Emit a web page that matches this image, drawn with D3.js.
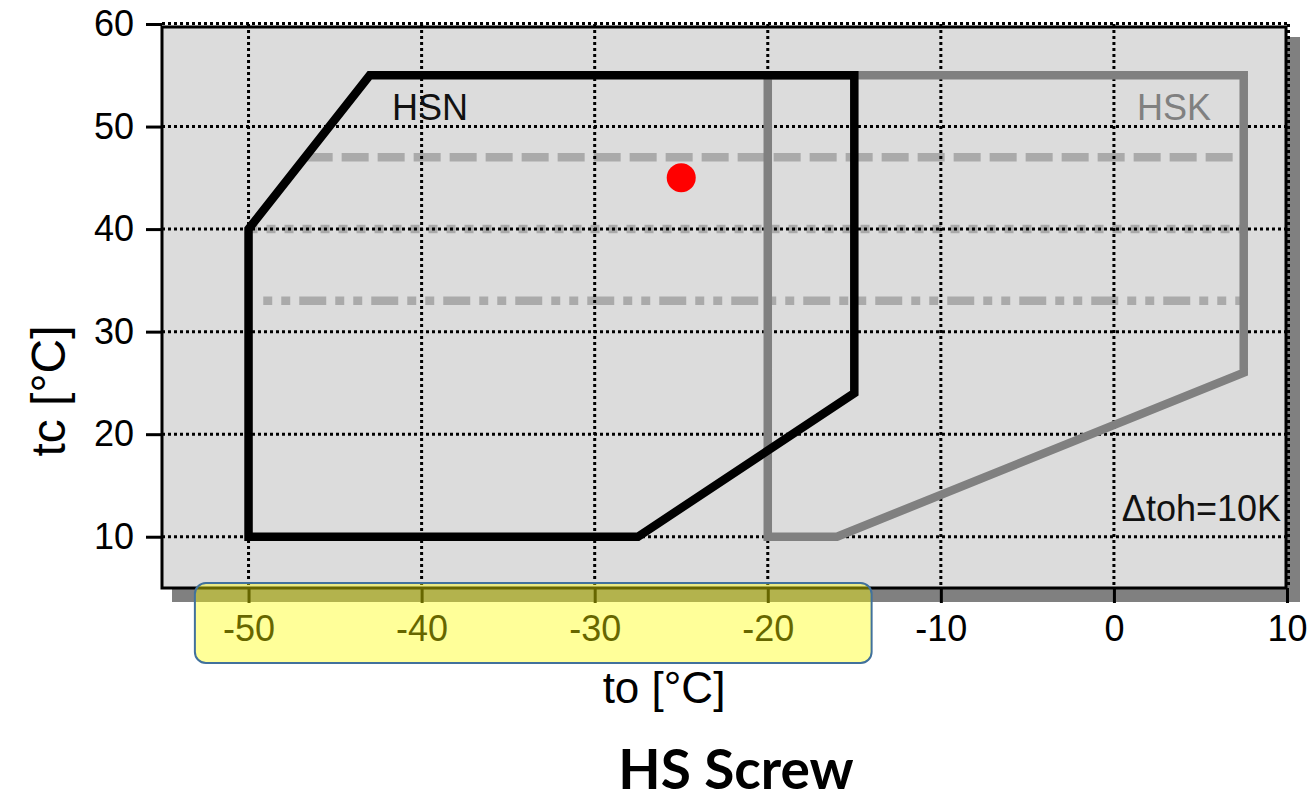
<!DOCTYPE html>
<html>
<head>
<meta charset="utf-8">
<script src="https://cdn.jsdelivr.net/npm/d3@7"></script>
<style>
  html, body { margin: 0; padding: 0; background: #ffffff; }
  svg { display: block; }
</style>
</head>
<body>
<svg id="chart" width="1315" height="800"></svg>
<script>
// ---- data ----
const xTicks = [-50, -40, -30, -20, -10, 0, 10];
const yTicks = [10, 20, 30, 40, 50, 60];

// HSN envelope (to, tc)
const hsnTo = [-50, -50, -43, -15, -15, -27.5];
const hsnTc = [10, 40, 55, 55, 24, 10];
// HSK envelope (to, tc)
const hskTo = [-20, -20, 7.5, 7.5, -16];
const hskTc = [10, 55, 55, 26, 10];

// reference lines
const refTc = [47, 40, 33];
const refToStart = [-46.7, -50, -49.15];
const refToEnd = [7.5, 7.5, 7.5];

// operating point
const pointTo = [-25];
const pointTc = [45];

const labels = ["HSN", "HSK", "Δtoh=10K"];

// ---- layout ----
const svg = d3.select("#chart");
const L = 162, R = 1287, T = 24, B = 588;
const x = d3.scaleLinear().domain([-55, 10]).range([L, R]);
const y = d3.scaleLinear().domain([5, 60]).range([B, T]);
const font = "'Liberation Sans', Arial, sans-serif";
const fmt = d => String(d);

// shadow
svg.append("rect")
  .attr("x", L + 10).attr("y", T + 13)
  .attr("width", R - L + 3).attr("height", B - T + 1)
  .attr("fill", "#808080");
// plot background
svg.append("rect")
  .attr("x", L).attr("y", T + 1.5)
  .attr("width", R - L).attr("height", B - T - 1.5)
  .attr("fill", "#dcdcdc");

// reference lines
const refDash = ["27 9", "9 9", "9 9 9 9 27 9"];
svg.append("g").selectAll("line")
  .data(refTc)
  .join("line")
  .attr("x1", (d, i) => x(refToStart[i]))
  .attr("x2", (d, i) => x(refToEnd[i]))
  .attr("y1", d => y(d)).attr("y2", d => y(d))
  .attr("stroke", "#aaaaaa")
  .attr("stroke-width", 8.5)
  .attr("stroke-dasharray", (d, i) => refDash[i]);

// grid
const grid = svg.append("g");
grid.selectAll("line.gx").data(xTicks).join("line")
  .attr("class", "gx")
  .attr("x1", d => x(d) + (d === 10 ? 1.5 : 0)).attr("x2", d => x(d) + (d === 10 ? 1.5 : 0))
  .attr("y1", T).attr("y2", B)
  .attr("stroke", "#000").attr("stroke-width", 3).attr("stroke-dasharray", "3 3");
grid.selectAll("line.gy").data(yTicks).join("line")
  .attr("class", "gy")
  .attr("y1", d => y(d) - (d === 60 ? 0.5 : 0)).attr("y2", d => y(d) - (d === 60 ? 0.5 : 0))
  .attr("x1", L).attr("x2", R + 2)
  .attr("stroke", "#000").attr("stroke-width", 3).attr("stroke-dasharray", "3 3");

// frame
svg.append("path")
  .attr("d", `M${L},${T + 3}H${R - 1}V${B}H${L}Z`)
  .attr("fill", "none").attr("stroke", "#000").attr("stroke-width", 3);

// axes (ticks + labels)
const yAxis = d3.axisLeft(y).tickValues(yTicks).tickFormat(fmt).tickSize(16).tickPadding(12);
const gy = svg.append("g").attr("transform", `translate(${L},0)`).call(yAxis);
gy.select(".domain").remove();
gy.selectAll(".tick line").attr("stroke", "#000").attr("stroke-width", 3);
gy.selectAll(".tick text").attr("font-family", font).attr("font-size", 36).attr("fill", "#000");

const xAxis = d3.axisBottom(x).tickValues(xTicks).tickFormat(fmt).tickSize(15).tickPadding(12);
const gx = svg.append("g").attr("transform", `translate(0,${B})`).call(xAxis);
gx.select(".domain").remove();
gx.selectAll(".tick line").attr("stroke", "#000").attr("stroke-width", 3);
gx.selectAll(".tick text").attr("font-family", font).attr("font-size", 36).attr("fill", "#000");

// envelopes
const line = d3.line();
svg.append("path")
  .attr("d", line(hskTo.map((d, i) => [x(d), y(hskTc[i])])) + "Z")
  .attr("fill", "none").attr("stroke", "#808080").attr("stroke-width", 8.5)
  .attr("stroke-linejoin", "miter");
svg.append("path")
  .attr("d", line(hsnTo.map((d, i) => [x(d), y(hsnTc[i])])) + "Z")
  .attr("fill", "none").attr("stroke", "#000").attr("stroke-width", 8.5)
  .attr("stroke-linejoin", "miter");

// point
svg.selectAll("circle.pt").data(pointTo).join("circle")
  .attr("class", "pt")
  .attr("cx", d => x(d)).attr("cy", (d, i) => y(pointTc[i]))
  .attr("r", 14.5).attr("fill", "#ff0000");

// in-plot labels
svg.append("text").attr("x", 392).attr("y", 120)
  .attr("font-family", font).attr("font-size", 36).attr("fill", "#111")
  .text(labels[0]);
svg.append("text").attr("x", 1211).attr("y", 120).attr("text-anchor", "end")
  .attr("font-family", font).attr("font-size", 36).attr("fill", "#808080")
  .text(labels[1]);
svg.append("text").attr("x", 1281).attr("y", 521).attr("text-anchor", "end")
  .attr("font-family", font).attr("font-size", 36).attr("fill", "#111")
  .text(labels[2]);

// axis titles
svg.append("text").attr("x", 664).attr("y", 703).attr("text-anchor", "middle")
  .attr("font-family", font).attr("font-size", 44).attr("fill", "#000")
  .text("to [°C]");
svg.append("text")
  .attr("transform", "translate(65,391) rotate(-90)")
  .attr("text-anchor", "middle")
  .attr("font-family", font).attr("font-size", 48).attr("fill", "#000")
  .text("tc [°C]");

// highlight box over the x axis
svg.append("rect")
  .attr("x", x(-53.1)).attr("y", B - 5)
  .attr("width", x(-14) - x(-53.1)).attr("height", 80)
  .attr("rx", 11).attr("ry", 11)
  .attr("fill", "rgba(255,255,0,0.4)")
  .attr("stroke", "#41719c").attr("stroke-width", 2);

// title
svg.append("text").attr("x", 736).attr("y", 789).attr("text-anchor", "middle")
  .attr("font-family", "Lato, 'Open Sans', sans-serif").attr("font-weight", "bold")
  .attr("font-size", 55).attr("fill", "#000")
  .text("HS Screw");
</script>
</body>
</html>
